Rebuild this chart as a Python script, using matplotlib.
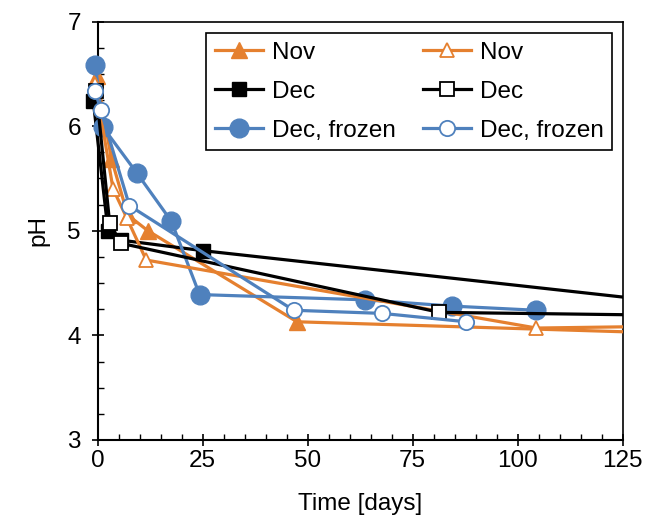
import matplotlib
matplotlib.use("Agg")
import matplotlib.pyplot as plt
from matplotlib.patches import Rectangle
from matplotlib.ticker import MultipleLocator

plt.rcParams["font.family"] = ["Liberation Sans", "DejaVu Sans"]

ORANGE = "#E5802F"
BLUE = "#4F81BD"

# sampling day and pH per batch (last points lie past the axis limit)
nov_day = [-0.2, 3.3, 7.2, 12.0, 47.5, 145.0]
nov_ph = [6.48, 5.69, 5.15, 5.00, 4.13, 4.01]
nov2_day = [-0.5, 3.7, 7.0, 11.6, 104.5, 140.0]
nov2_ph = [6.40, 5.40, 5.12, 4.72, 4.07, 4.09]

dec_day = [-1.0, 2.5, 5.6, 25.0, 140.0]
dec_ph = [6.24, 5.00, 4.91, 4.81, 4.30]
dec2_day = [-0.3, 2.9, 5.6, 81.4, 140.0]
dec2_ph = [6.34, 5.07, 4.88, 4.22, 4.19]

frz_day = [-0.5, 1.3, 9.4, 17.6, 24.3, 63.6, 84.4, 104.4]
frz_ph = [6.58, 5.99, 5.55, 5.09, 4.39, 4.34, 4.28, 4.24]
frz2_day = [-0.6, 0.8, 7.6, 46.7, 67.8, 87.8]
frz2_ph = [6.34, 6.15, 5.24, 4.24, 4.21, 4.13]

labels = ["Nov", "Dec", "Dec, frozen"]

fig = plt.figure(figsize=(6.6, 5.22), dpi=100)
ax = fig.add_axes([97.5 / 660, 1 - 440 / 522, 525 / 660, (440 - 21.5) / 522])

# clip on the right edge only, so the day-0 markers stay whole
clip = Rectangle((-0.06, -0.06), 1.06, 1.12, transform=ax.transAxes,
                 facecolor="none", edgecolor="none")
ax.add_patch(clip)

series = [
    (nov_day, nov_ph, ORANGE, "^", True, 11, labels[0]),
    (dec_day, dec_ph, "black", "s", True, 9.5, labels[1]),
    (frz_day, frz_ph, BLUE, "o", True, 13.5, labels[2]),
    (nov2_day, nov2_ph, ORANGE, "^", False, 10, labels[0]),
    (dec2_day, dec2_ph, "black", "s", False, 10, labels[1]),
    (frz2_day, frz2_ph, BLUE, "o", False, 11, labels[2]),
]
order = [1, 4, 0, 3, 5, 2]
handles = [None] * 6
for i in order:
    x, y, c, m, filled, ms, lab = series[i]
    ln, = ax.plot(x, y, color=c, lw=2.3, marker=m, ms=ms,
                  mfc=c if filled else "white", mec=c,
                  mew=1.0 if filled else 1.3, label=lab, zorder=3 + i)
    ln.set_clip_path(clip)
    handles[i] = ln

ax.set_xlim(0, 125)
ax.set_ylim(3, 7)
ax.xaxis.set_major_locator(MultipleLocator(25))
ax.xaxis.set_minor_locator(MultipleLocator(5))
ax.yaxis.set_major_locator(MultipleLocator(1))
ax.yaxis.set_minor_locator(MultipleLocator(0.25))
ax.tick_params(which="major", direction="inout", length=8, width=1.2,
               labelsize=17.5, pad=3)
ax.tick_params(which="minor", direction="in", length=4, width=1.0)
ax.tick_params(axis="y", which="major", pad=8)

for side in ["left", "bottom"]:
    ax.spines[side].set_linewidth(1.5)
for side in ["top", "right"]:
    ax.spines[side].set_linewidth(1.2)

ax.set_xlabel("Time [days]", fontsize=17.5, labelpad=15)
ax.set_ylabel("pH", fontsize=17.5, labelpad=13)

leg = ax.legend(handles=handles, ncol=2, fontsize=17.5, loc="upper right",
                bbox_to_anchor=(612 / 660, 1 - 33 / 522),
                bbox_transform=fig.transFigure, borderaxespad=0,
                frameon=True, fancybox=False, edgecolor="black",
                framealpha=1, handlelength=2.0, handletextpad=0.35,
                columnspacing=1.1, labelspacing=0.7, borderpad=0.35)
leg.get_frame().set_linewidth(1.2)
leg.set_zorder(20)

fig.savefig("out.png", dpi=100)
